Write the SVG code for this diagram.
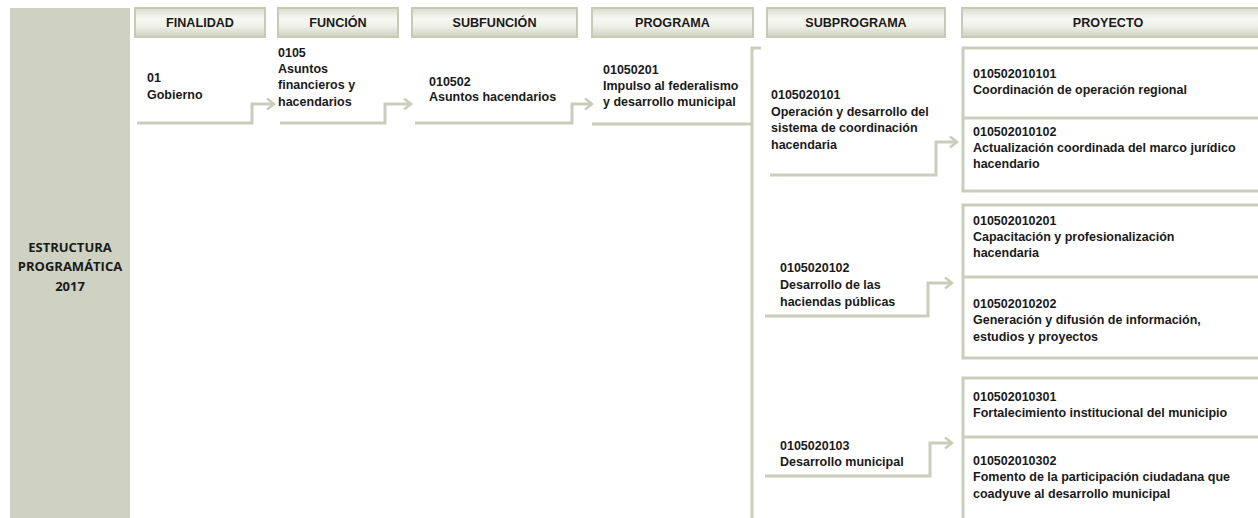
<svg xmlns="http://www.w3.org/2000/svg" width="1258" height="518" viewBox="0 0 1258 518">
<defs>
<linearGradient id="hdr" x1="0" y1="0" x2="0" y2="1">
<stop offset="0" stop-color="#d9dbcc"/>
<stop offset="0.35" stop-color="#f7f7f2"/>
<stop offset="0.6" stop-color="#f1f2ea"/>
<stop offset="1" stop-color="#cfd1c1"/>
</linearGradient>
<marker id="chev" markerWidth="12" markerHeight="14" refX="9" refY="7" orient="auto" markerUnits="userSpaceOnUse">
<path d="M2,1.5 L9,7 L2,12.5" fill="none" stroke="#cbcdbb" stroke-width="2.5"/>
</marker>
<style>
.hdr{fill:url(#hdr);stroke:#c8cab8;stroke-width:2}
.ht{font-family:"Liberation Sans",Arial,sans-serif;font-weight:bold;font-size:12.6px;fill:#1a1a1a;text-anchor:middle}
.t{font-family:"Liberation Sans",Arial,sans-serif;font-weight:bold;font-size:12.5px;fill:#1a1a1a}
.ln{fill:none;stroke:#cbcdbb;stroke-width:3}
.box{fill:#ffffff;stroke:#cbcdbb;stroke-width:3}
.pt{font-family:"Open Sans","Liberation Sans",sans-serif;font-weight:bold;font-size:13px;fill:#1a1a1a;text-anchor:middle}
</style>
</defs>
<rect width="1258" height="518" fill="#ffffff"/>

<g id="panel">
<rect x="10" y="8" width="120" height="510" fill="#cfd2c2"/>
<text class="pt" x="70" y="252">ESTRUCTURA</text>
<text class="pt" x="70" y="271">PROGRAMÁTICA</text>
<text class="pt" x="70" y="291">2017</text>
</g>

<g id="headers">
<g id="h-finalidad"><rect class="hdr" x="135" y="8" width="130" height="29"/><text class="ht" x="200" y="27">FINALIDAD</text></g>
<g id="h-funcion"><rect class="hdr" x="278" y="8" width="120" height="29"/><text class="ht" x="338" y="27">FUNCIÓN</text></g>
<g id="h-subfuncion"><rect class="hdr" x="412" y="8" width="165" height="29"/><text class="ht" x="494.5" y="27">SUBFUNCIÓN</text></g>
<g id="h-programa"><rect class="hdr" x="592" y="8" width="161" height="29"/><text class="ht" x="672.5" y="27">PROGRAMA</text></g>
<g id="h-subprograma"><rect class="hdr" x="767" y="8" width="178" height="29"/><text class="ht" x="856" y="27">SUBPROGRAMA</text></g>
<g id="h-proyecto"><rect class="hdr" x="962" y="8" width="300" height="29"/><text class="ht" x="1108" y="27">PROYECTO</text></g>
</g>

<g id="proyecto-boxes">
<rect class="box" x="963" y="48" width="300" height="143"/>
<line class="ln" x1="963" y1="118" x2="1262" y2="118"/>
<rect class="box" x="963" y="205" width="300" height="153"/>
<line class="ln" x1="963" y1="277" x2="1262" y2="277"/>
<rect class="box" x="963" y="378" width="300" height="160"/>
<line class="ln" x1="963" y1="437" x2="1262" y2="437"/>
</g>

<g id="connectors">
<path class="ln" d="M137,123 H252 V104 H274" marker-end="url(#chev)"/>
<path class="ln" d="M280,123 H385 V104 H411" marker-end="url(#chev)"/>
<path class="ln" d="M415,123 H572 V104 H592" marker-end="url(#chev)"/>
<path class="ln" d="M592,124 H752"/>
<path class="ln" d="M761,48 H752 V518"/>
<path class="ln" d="M770,175 H936 V142 H957" marker-end="url(#chev)"/>
<path class="ln" d="M765,316 H928 V283 H952" marker-end="url(#chev)"/>
<path class="ln" d="M765,476 H930 V443 H952" marker-end="url(#chev)"/>
</g>

<g id="n-finalidad">
<text class="t" x="147" y="82">01</text>
<text class="t" x="147" y="99">Gobierno</text>
</g>
<g id="n-funcion">
<text class="t" x="278" y="57">0105</text>
<text class="t" x="278" y="73">Asuntos</text>
<text class="t" x="278" y="89">financieros y</text>
<text class="t" x="278" y="106">hacendarios</text>
</g>
<g id="n-subfuncion">
<text class="t" x="429" y="86">010502</text>
<text class="t" x="429" y="101">Asuntos hacendarios</text>
</g>
<g id="n-programa">
<text class="t" x="603" y="74">01050201</text>
<text class="t" x="603" y="90">Impulso al federalismo</text>
<text class="t" x="603" y="106">y desarrollo municipal</text>
</g>
<g id="n-sub1">
<text class="t" x="771" y="99">0105020101</text>
<text class="t" x="771" y="115.5">Operación y desarrollo del</text>
<text class="t" x="771" y="132">sistema de coordinación</text>
<text class="t" x="771" y="148.5">hacendaria</text>
</g>
<g id="n-sub2">
<text class="t" x="780" y="272">0105020102</text>
<text class="t" x="780" y="289">Desarrollo de las</text>
<text class="t" x="780" y="306">haciendas públicas</text>
</g>
<g id="n-sub3">
<text class="t" x="780" y="450">0105020103</text>
<text class="t" x="780" y="466">Desarrollo municipal</text>
</g>
<g id="n-p0101">
<text class="t" x="973" y="78">010502010101</text>
<text class="t" x="973" y="94">Coordinación de operación regional</text>
</g>
<g id="n-p0102">
<text class="t" x="973" y="136">010502010102</text>
<text class="t" x="973" y="152">Actualización coordinada del marco jurídico</text>
<text class="t" x="973" y="168">hacendario</text>
</g>
<g id="n-p0201">
<text class="t" x="973" y="225">010502010201</text>
<text class="t" x="973" y="241">Capacitación y profesionalización</text>
<text class="t" x="973" y="257">hacendaria</text>
</g>
<g id="n-p0202">
<text class="t" x="973" y="308">010502010202</text>
<text class="t" x="973" y="324">Generación y difusión de información,</text>
<text class="t" x="973" y="341">estudios y proyectos</text>
</g>
<g id="n-p0301">
<text class="t" x="973" y="401">010502010301</text>
<text class="t" x="973" y="417">Fortalecimiento institucional del municipio</text>
</g>
<g id="n-p0302">
<text class="t" x="973" y="465">010502010302</text>
<text class="t" x="973" y="481">Fomento de la participación ciudadana que</text>
<text class="t" x="973" y="498">coadyuve al desarrollo municipal</text>
</g>
</svg>
